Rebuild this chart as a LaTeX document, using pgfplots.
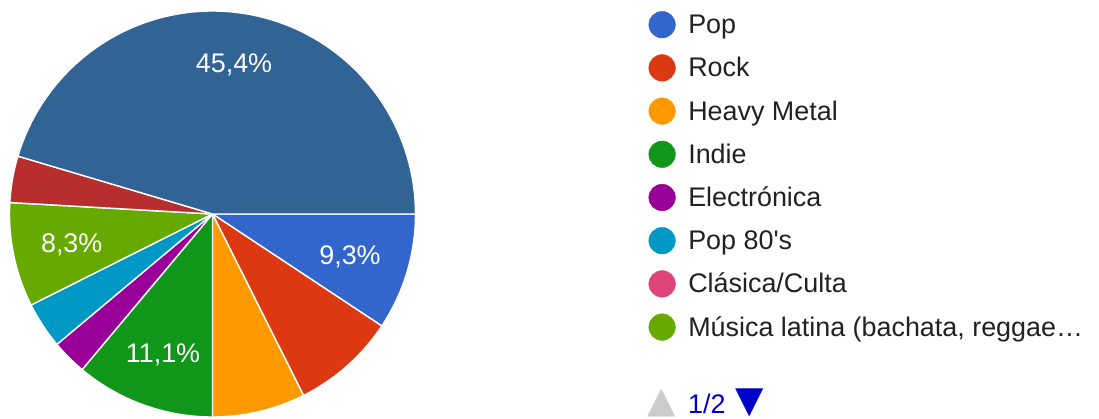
\documentclass[border=0pt]{standalone}
\usepackage{pgfplots}
\pgfplotsset{compat=1.18}
\usepackage{pgfplotstable}
\usepackage{fontspec}
\setmainfont{Liberation Sans}
\newfontfamily\symfont{DejaVu Sans}

% Google chart palette
\definecolor{gPop}{HTML}{3366CC}
\definecolor{gRock}{HTML}{DC3912}
\definecolor{gMetal}{HTML}{FF9900}
\definecolor{gIndie}{HTML}{109618}
\definecolor{gElec}{HTML}{990099}
\definecolor{gEighty}{HTML}{0099C6}
\definecolor{gClas}{HTML}{DD4477}
\definecolor{gLatin}{HTML}{66AA00}
\definecolor{gNinth}{HTML}{B82E2E}
\definecolor{gTenth}{HTML}{316395}
\definecolor{txtgray}{HTML}{212121}
\definecolor{pagerblue}{HTML}{0000CC}
\definecolor{pagergray}{HTML}{CCCCCC}

% share of each answer, percent, clockwise from 3 o'clock
\pgfplotstableread{
value col
9.3 gPop
8.3 gRock
7.4 gMetal
11.1 gIndie
2.8 gElec
3.7 gEighty
0.0 gClas
8.3 gLatin
3.7 gNinth
45.4 gTenth
}\piedata

\begin{document}
\begin{tikzpicture}
\useasboundingbox (0,0) rectangle (1099bp,419bp);
\begin{axis}[
  scale only axis, width=1099bp, height=419bp,
  xmin=0, xmax=1099, ymin=0, ymax=419, y dir=reverse,
  hide axis, clip=false,
  legend image code/.code={\fill[#1] (13.3bp,2bp) circle[radius=13.3bp];},
  legend style={at={(axis cs:648.4,11)}, anchor=north west,
    draw=none, fill=none, inner sep=0pt, row sep=14.7bp,
    font=\fontsize{27}{27}\selectfont, text=txtgray,
    nodes={inner sep=0pt, text height=20bp, text depth=6bp},
    /tikz/every odd column/.append style={column sep=12.7bp}},
  legend cell align=left,
]
\pgfplotstablegetrowsof{\piedata}
\pgfmathtruncatemacro{\lastrow}{\pgfplotsretval-1}
\def\cum{0}
\pgfplotsforeachungrouped \i in {0,...,\lastrow}{%
  \pgfplotstablegetelem{\i}{value}\of{\piedata}\let\val\pgfplotsretval
  \pgfplotstablegetelem{\i}{col}\of{\piedata}\let\col\pgfplotsretval
  \pgfmathsetmacro{\angA}{3.6*\cum}
  \pgfmathsetmacro{\angB}{3.6*(\cum+\val)}
  \pgfmathsetmacro{\cum}{\cum+\val}
  \ifdim\val pt>0pt
    \edef\slice{\noexpand\addplot[forget plot, fill=\col, draw=white,
      line width=1.4bp, line join=round, domain=\angA:\angB, samples=80]
      ({212.5+203*cos(x)},{214+203*sin(x)}) -- (axis cs:212.5,214) -- cycle;}
    \slice
  \fi
}

\addlegendimage{gPop}\addlegendentry{Pop}
\addlegendimage{gRock}\addlegendentry{Rock}
\addlegendimage{gMetal}\addlegendentry{Heavy Metal}
\addlegendimage{gIndie}\addlegendentry{Indie}
\addlegendimage{gElec}\addlegendentry{Electrónica}
\addlegendimage{gEighty}\addlegendentry{Pop 80\textquotesingle s}
\addlegendimage{gClas}\addlegendentry{Clásica/Culta}
\addlegendimage{gLatin}\addlegendentry{Música latina (bachata, reggae…}

\begin{scope}[every node/.style={text=white, font=\fontsize{27}{27}\selectfont, text depth=0pt}]
\node at (axis cs:234,63) {45,4\%};
\node at (axis cs:350,255) {9,3\%};
\node at (axis cs:163,353) {11,1\%};
\node at (axis cs:71.7,243.5) {8,3\%};
\end{scope}

\node[text=pagergray, font=\symfont\fontsize{37}{37}\selectfont, inner sep=0pt] at (axis cs:661.5,403) {▲};
\node[text=pagerblue, font=\fontsize{27}{27}\selectfont, anchor=base west, inner sep=0pt] at (axis cs:688,413) {1/2};
\node[text=pagerblue, font=\symfont\fontsize{37}{37}\selectfont, inner sep=0pt] at (axis cs:750,403) {▼};
\end{axis}
\end{tikzpicture}
\end{document}
